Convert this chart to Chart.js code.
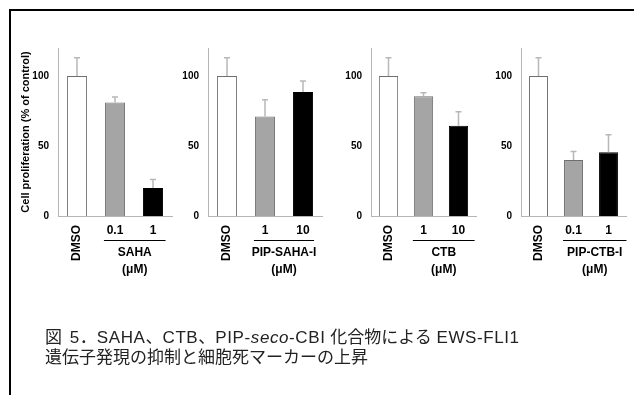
<!DOCTYPE html>
<html>
<head>
<meta charset="utf-8">
<script src="https://cdn.jsdelivr.net/npm/chart.js@4.4.1/dist/chart.umd.min.js"></script>
<style>
  html, body { margin: 0; padding: 0; background: #fff; }
  #wrap { position: relative; width: 634px; height: 395px; overflow: hidden; }
  #wrap canvas { position: absolute; left: 0; top: 0; }
  .frame-top { position: absolute; left: 9px; top: 9px; width: 625px; height: 2px; background: #000; }
  .frame-left { position: absolute; left: 9px; top: 9px; width: 2px; height: 386px; background: #000; }
  #caption {
    position: absolute; left: 45px; top: 328px;
    font-family: "Liberation Sans", "Noto Sans CJK JP", sans-serif;
    font-size: 17px; line-height: 20px; color: #222; white-space: nowrap;
  }
  #caption .lat { letter-spacing: 0.6px; }
  #caption .sp { margin-right: 3px; }
</style>
</head>
<body>
<div id="wrap">
  <div class="frame-top"></div>
  <div class="frame-left"></div>
  <canvas id="c1" width="634" height="395"></canvas>
  <canvas id="c2" width="634" height="395"></canvas>
  <canvas id="c3" width="634" height="395"></canvas>
  <canvas id="c4" width="634" height="395"></canvas>
  <div id="caption"><span class="sp">図</span> <span class="lat">5</span>．<span class="lat">SAHA</span>、<span class="lat">CTB</span>、<span class="lat">PIP-<i>seco</i>-CBI</span> 化合物による <span class="lat">EWS-FLI1</span><br>遺伝子発現の抑制と細胞死マーカーの上昇</div>
</div>
<script>
// valores (% do controle)
const COMPOUNDS = ['SAHA', 'PIP-SAHA-I', 'CTB', 'PIP-CTB-I'];
const DOSES = [['0.1', '1'], ['1', '10'], ['1', '10'], ['0.1', '1']];
const SAHA_MEAN = [100, 81, 20];
const SAHA_ERR = [13, 4, 6];
const PIPSAHA_MEAN = [100, 71, 88.5];
const PIPSAHA_ERR = [13, 12, 8];
const CTB_MEAN = [100, 85.5, 64.5];
const CTB_ERR = [13, 2.5, 10];
const PIPCTB_MEAN = [100, 40, 45.5];
const PIPCTB_ERR = [13, 6, 12.5];
const Y_TICKS = [0, 50, 100];
const UNIT = '(μM)';

const MEANS = [SAHA_MEAN, PIPSAHA_MEAN, CTB_MEAN, PIPCTB_MEAN];
const ERRS = [SAHA_ERR, PIPSAHA_ERR, CTB_ERR, PIPCTB_ERR];

// layout de cada painel (px)
const PANELS = [
  { left: 58, right: 172, lineEnd: 2.5, bar: 0.53 },
  { left: 208, right: 322, lineEnd: 1, bar: 0.53 },
  { left: 371, right: 476, lineEnd: 6.5, bar: 0.55 },
  { left: 521, right: 626, lineEnd: 8.5, bar: 0.54 },
];
const TOP = 48, BOTTOM = 216, AXIS_W = 40;
const FONT = "'Liberation Sans', Arial, sans-serif";
const COL = { white: '#ffffff', gray: '#a5a5a5', black: '#000000', edge: '#6f6f6f', err: '#b8b8b8', axis: '#b5b5b5' };

// barras de erro (so para cima) com tampa
const errorBars = {
  id: 'errorBars',
  afterDatasetsDraw(chart, args, opts) {
    const { ctx } = chart;
    const y = chart.scales.y;
    const meta = chart.getDatasetMeta(0);
    ctx.save();
    ctx.strokeStyle = COL.err;
    ctx.lineWidth = 1.5;
    meta.data.forEach((bar, i) => {
      const v = chart.data.datasets[0].data[i];
      const yt = y.getPixelForValue(v + opts.err[i]);
      ctx.beginPath();
      ctx.moveTo(bar.x, bar.y);
      ctx.lineTo(bar.x, yt);
      ctx.moveTo(bar.x - 3, yt);
      ctx.lineTo(bar.x + 3, yt);
      ctx.stroke();
    });
    ctx.restore();
  },
};

// rotulos do eixo x: DMSO girado, doses, linha e nome do composto
const groupLabels = {
  id: 'groupLabels',
  afterDraw(chart, args, opts) {
    const { ctx } = chart;
    const meta = chart.getDatasetMeta(0);
    const b0 = meta.data[0], b1 = meta.data[1], b2 = meta.data[2];
    ctx.save();
    ctx.fillStyle = '#000';
    ctx.font = `bold 12px ${FONT}`;
    // DMSO
    ctx.save();
    ctx.translate(b0.x, 225);
    ctx.rotate(-Math.PI / 2);
    ctx.textAlign = 'right';
    ctx.textBaseline = 'middle';
    ctx.fillText(chart.data.labels[0], 0, 0);
    ctx.restore();
    // doses
    ctx.textAlign = 'center';
    ctx.textBaseline = 'middle';
    ctx.fillText(chart.data.labels[1], b1.x, 231);
    ctx.fillText(chart.data.labels[2], b2.x, 231);
    // linha
    const x0 = b1.x - b1.width / 2 - 1;
    const x1 = b2.x + b2.width / 2 + opts.lineEnd;
    ctx.strokeStyle = '#000';
    ctx.lineWidth = 1;
    ctx.beginPath();
    ctx.moveTo(x0, 240.5);
    ctx.lineTo(x1, 240.5);
    ctx.stroke();
    const cx = (x0 + x1) / 2;
    ctx.fillText(opts.name, cx, 253);
    ctx.fillText(UNIT, cx, 270);
    ctx.restore();
  },
};

function makePanel(k) {
  const p = PANELS[k];
  const first = k === 0;
  return new Chart(document.getElementById('c' + (k + 1)), {
    type: 'bar',
    data: {
      labels: ['DMSO', ...DOSES[k]],
      datasets: [{
        data: MEANS[k],
        backgroundColor: [COL.white, COL.gray, COL.black],
        borderColor: [COL.edge, COL.edge, COL.black],
        borderWidth: 1,
        barPercentage: p.bar,
        categoryPercentage: 1,
      }],
    },
    options: {
      responsive: false,
      animation: false,
      events: [],
      layout: { padding: { left: p.left - AXIS_W, right: 634 - p.right, top: TOP, bottom: 395 - BOTTOM } },
      plugins: {
        legend: { display: false },
        tooltip: { enabled: false },
        errorBars: { err: ERRS[k] },
        groupLabels: { name: COMPOUNDS[k], lineEnd: p.lineEnd },
      },
      scales: {
        x: {
          grid: { display: false, drawTicks: false },
          ticks: { display: false },
          border: { display: true, color: COL.axis, width: 1 },
          afterFit: (s) => { s.height = 0; },
        },
        y: {
          min: 0, max: 120,
          afterBuildTicks: (s) => { s.ticks = Y_TICKS.map((v) => ({ value: v })); },
          grid: { display: false, drawTicks: false },
          border: { display: true, color: COL.axis, width: 1 },
          ticks: { color: '#000', padding: 9, font: { family: FONT, size: 10, weight: 'bold' } },
          title: {
            display: first,
            text: 'Cell proliferation (% of control)',
            color: '#000',
            font: { family: FONT, size: 11, weight: 'bold' },
            padding: { top: 1, bottom: 0 },
          },
          afterFit: (s) => { s.width = AXIS_W; },
        },
      },
    },
    plugins: [errorBars, groupLabels],
  });
}

[0, 1, 2, 3].forEach(makePanel);
</script>
</body>
</html>
